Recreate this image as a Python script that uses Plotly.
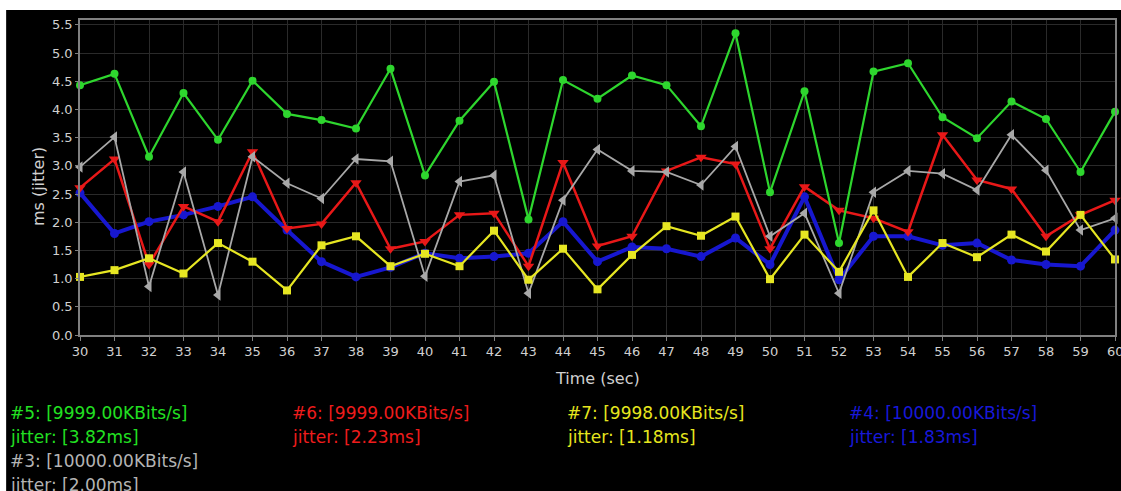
import plotly.graph_objects as go

# ---- data ----
time_sec = list(range(30, 61))

jitter_5 = [4.43, 4.63, 3.16, 4.29, 3.46, 4.51, 3.92, 3.81, 3.66, 4.72, 2.83,
            3.80, 4.49, 2.05, 4.52, 4.19, 4.60, 4.43, 3.70, 5.35, 2.53, 4.32,
            1.63, 4.67, 4.82, 3.86, 3.49, 4.14, 3.83, 2.89, 3.96]
jitter_6 = [2.61, 3.12, 1.25, 2.28, 2.01, 3.25, 1.89, 1.97, 2.70, 1.53, 1.66,
            2.13, 2.16, 1.22, 3.06, 1.58, 1.75, 2.91, 3.15, 3.03, 1.53, 2.63,
            2.21, 2.07, 1.83, 3.55, 2.75, 2.59, 1.75, 2.13, 2.39]
jitter_3 = [2.98, 3.51, 0.86, 2.89, 0.71, 3.16, 2.69, 2.42, 3.12, 3.08, 1.04,
            2.72, 2.83, 0.74, 2.39, 3.29, 2.91, 2.89, 2.66, 3.34, 1.75, 2.16,
            0.74, 2.53, 2.91, 2.86, 2.57, 3.55, 2.92, 1.86, 2.07]
jitter_4 = [2.52, 1.80, 2.01, 2.13, 2.28, 2.45, 1.86, 1.30, 1.03, 1.20, 1.45,
            1.36, 1.39, 1.45, 2.01, 1.30, 1.56, 1.53, 1.39, 1.72, 1.25, 2.45,
            0.98, 1.75, 1.75, 1.59, 1.63, 1.33, 1.25, 1.22, 1.86]
jitter_7 = [1.03, 1.15, 1.36, 1.09, 1.63, 1.30, 0.79, 1.59, 1.75, 1.22, 1.44,
            1.22, 1.85, 0.98, 1.53, 0.81, 1.42, 1.93, 1.76, 2.10, 0.99, 1.78,
            1.12, 2.21, 1.03, 1.63, 1.38, 1.78, 1.48, 2.13, 1.34]

y_ticks = [0.0, 0.5, 1.0, 1.5, 2.0, 2.5, 3.0, 3.5, 4.0, 4.5, 5.0, 5.5]

legend_rows = [
    ("#5: [9999.00KBits/s]", "jitter: [3.82ms]", "#22e022"),
    ("#6: [9999.00KBits/s]", "jitter: [2.23ms]", "#ee1c1c"),
    ("#7: [9998.00KBits/s]", "jitter: [1.18ms]", "#e6e61e"),
    ("#4: [10000.00KBits/s]", "jitter: [1.83ms]", "#1818d8"),
    ("#3: [10000.00KBits/s]", "jitter: [2.00ms]", "#b4b4b4"),
]

W, H = 1121, 491
ML, MR, MT, MB = 80, 4, 20, 156
PW, PH = W - ML - MR, H - MT - MB

def px_x(px):
    return (px - ML) / PW

def px_y(py):
    return (H - MB - py) / PH

fig = go.Figure()

series = [
    (jitter_4, "#1717cf", 4.0, "circle", 9),
    (jitter_6, "#e81818", 2.5, "triangle-down", 10),
    (jitter_3, "#a8a8a8", 1.8, "triangle-left", 10),
    (jitter_7, "#e6e622", 2.2, "square", 8),
    (jitter_5, "#2ed62e", 2.2, "circle", 8),
]
for vals, col, lw, sym, ms in series:
    fig.add_trace(go.Scatter(
        x=time_sec, y=vals, mode="lines+markers",
        line=dict(color=col, width=lw),
        marker=dict(color=col, symbol=sym, size=ms, line=dict(width=0)),
        showlegend=False, cliponaxis=False,
    ))

axis_font = dict(family="DejaVu Sans", size=13, color="#d0d0d0")

fig.update_xaxes(
    range=[30, 60], tickmode="array", tickvals=time_sec,
    ticktext=[str(t) for t in time_sec],
    showgrid=True, gridcolor="#2a2a2a", gridwidth=1,
    showline=True, linecolor="#808080", linewidth=1.5, mirror=True,
    ticks="outside", ticklen=4, tickcolor="#808080",
    tickfont=axis_font, zeroline=False,
)
fig.update_yaxes(
    range=[0, PH / 56.4], tickmode="array", tickvals=y_ticks,
    ticktext=[f"{v:.1f}" for v in y_ticks],
    showgrid=True, gridcolor="#2a2a2a", gridwidth=1,
    showline=True, linecolor="#808080", linewidth=1.5, mirror=True,
    ticks="outside", ticklen=3, tickcolor="#808080",
    tickfont=axis_font, zeroline=False,
)

annotations = [
    dict(text="Time (sec)", x=px_x(598), y=px_y(378), xref="paper", yref="paper",
         xanchor="center", yanchor="middle", showarrow=False,
         font=dict(family="DejaVu Sans", size=16, color="#d0d0d0")),
    dict(text="ms (jitter)", x=px_x(38), y=px_y(187), xref="paper", yref="paper",
         xanchor="center", yanchor="middle", showarrow=False, textangle=-90,
         font=dict(family="DejaVu Sans", size=16, color="#d0d0d0")),
    # last x tick label, clipped by the right edge as in the reference
    dict(text=str(time_sec[-1]), x=time_sec[-1], y=px_y(351), xref="x", yref="paper",
         xanchor="center", yanchor="middle", showarrow=False,
         font=axis_font),
]

legend_pos = [(8, 413), (290, 413), (566, 413), (848, 413), (8, 461)]
for (l1, l2, col), (lx, ly) in zip(legend_rows, legend_pos):
    for k, txt in enumerate([l1, l2]):
        annotations.append(dict(
            text=txt, x=px_x(lx), y=px_y(ly + 24 * k), xref="paper", yref="paper",
            xanchor="left", yanchor="middle", showarrow=False,
            font=dict(family="DejaVu Sans", size=17, color=col)))

fig.update_layout(
    width=W, height=H,
    margin=dict(l=ML, r=MR, t=MT, b=MB),
    paper_bgcolor="white", plot_bgcolor="black",
    annotations=annotations,
    shapes=[dict(type="rect", xref="paper", yref="paper", layer="below",
                 x0=px_x(6), x1=px_x(W + 5), y0=px_y(H + 10), y1=px_y(10),
                 fillcolor="black", line=dict(width=0))],
)

fig.write_html("out.html", config={"displayModeBar": False})
